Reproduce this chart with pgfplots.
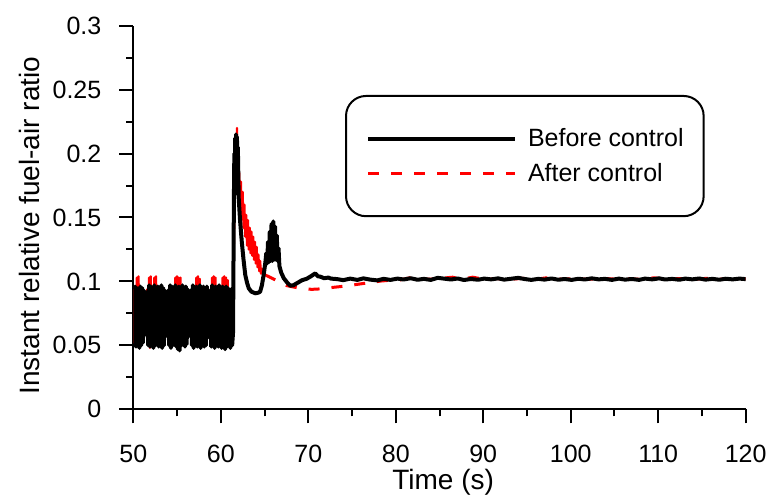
\documentclass[border=0pt]{standalone}
\usepackage{fontspec}
\setmainfont{Liberation Sans}
\usepackage{pgfplots}
\pgfplotsset{compat=1.18}

\begin{document}
\begin{tikzpicture}
\begin{axis}[
  scale only axis,
  width=306.2pt, height=191.8pt,
  xmin=50, xmax=120, ymin=0, ymax=0.3,
  axis lines=left,
  axis line style={-, line width=1pt},
  xtick={50,60,70,80,90,100,110,120},
  ytick={0,0.05,0.1,0.15,0.2,0.25,0.3},
  yticklabels={0,0.05,0.1,0.15,0.2,0.25,0.3},
  minor x tick num=1, minor y tick num=1,
  tick align=outside, tick pos=left,
  major tick length=7pt, minor tick length=3.5pt,
  tick style={line width=1pt, black},
  /pgf/number format/assume math mode=true,
  tick label style={font=\fontsize{12.5}{14}\selectfont},
  xticklabel style={anchor=base, inner sep=0pt, yshift=-19.5pt},
  yticklabel style={anchor=east, inner sep=0pt, xshift=-8.8pt},
  xlabel={Time (s)},
  ylabel={Instant relative fuel-air ratio},
  every axis x label/.style={at={(axis description cs:0.506,0)}, anchor=base, yshift=-40pt, font=\fontsize{14}{16}\selectfont},
  every axis y label/.style={at={(axis description cs:-0.1524,0.479)}, rotate=90, anchor=base, font=\fontsize{14}{16}\selectfont},
  reverse legend,
  legend image code/.code={\draw[#1] (0pt,0pt) -- (73.5pt,0pt);},
  legend style={at={(axis description cs:0.3457,0.8194)}, anchor=north west,
    draw=black, line width=1pt, rounded corners=10pt,
    font=\fontsize{12.5}{14}\selectfont,
    inner xsep=10pt, inner ysep=16pt, row sep=7pt, column sep=5.5pt,
    nodes={inner sep=0pt}},
  legend cell align=left,
]
% After control, dense part (drawn solid, it is too dense to show the dashes)
\addplot[red, line width=1.1pt, line join=round, forget plot] coordinates {
(50.0,0.094)(50.1,0.052)(50.2,0.096)(50.3,0.053)(50.4,0.103)(50.5,0.052)(50.6,0.104)(50.7,0.054)
(50.8,0.095)(50.9,0.053)(51.0,0.094)(51.1,0.054)(51.2,0.093)(51.3,0.058)(51.4,0.078)(51.5,0.068)
(51.6,0.094)(51.7,0.052)(51.8,0.103)(51.9,0.048)(52.0,0.104)(52.1,0.053)(52.2,0.094)(52.3,0.052)
(52.4,0.103)(52.5,0.053)(52.6,0.104)(52.7,0.054)(52.8,0.094)(52.9,0.052)(53.0,0.093)(53.1,0.053)
(53.2,0.095)(53.3,0.052)(53.4,0.094)(53.5,0.053)(53.6,0.093)(53.7,0.057)(53.8,0.080)(53.9,0.066)
(54.0,0.093)(54.1,0.052)(54.2,0.095)(54.3,0.053)(54.4,0.094)(54.5,0.052)(54.6,0.094)(54.7,0.053)
(54.8,0.103)(54.9,0.052)(55.0,0.104)(55.1,0.050)(55.2,0.103)(55.3,0.049)(55.4,0.103)(55.5,0.052)
(55.6,0.095)(55.7,0.054)(55.8,0.094)(55.9,0.052)(56.0,0.094)(56.1,0.053)(56.2,0.093)(56.3,0.057)
(56.4,0.079)(56.5,0.068)(56.6,0.093)(56.7,0.052)(56.8,0.095)(56.9,0.051)(57.0,0.094)(57.1,0.053)
(57.2,0.103)(57.3,0.052)(57.4,0.104)(57.5,0.052)(57.6,0.102)(57.7,0.051)(57.8,0.094)(57.9,0.053)
(58.0,0.094)(58.1,0.052)(58.2,0.093)(58.3,0.053)(58.4,0.094)(58.5,0.056)(58.6,0.079)(58.7,0.069)
(58.8,0.093)(58.9,0.052)(59.0,0.103)(59.1,0.053)(59.2,0.104)(59.3,0.051)(59.4,0.103)(59.5,0.053)
(59.6,0.094)(59.7,0.052)(59.8,0.095)(59.9,0.053)(60.0,0.094)(60.1,0.051)(60.2,0.103)(60.3,0.052)
(60.4,0.104)(60.5,0.050)(60.6,0.103)(60.7,0.052)(60.8,0.101)(60.9,0.053)(61.0,0.094)(61.1,0.051)
(61.2,0.094)(61.3,0.053)(61.4,0.062)(61.45,0.090)(61.5,0.130)(61.6,0.170)(61.7,0.205)(61.75,0.190)
(61.85,0.220)(61.9,0.200)(62.0,0.196)(62.05,0.172)(62.1,0.185)(62.2,0.165)(62.3,0.178)(62.4,0.150)
(62.5,0.170)(62.6,0.142)(62.7,0.160)(62.8,0.135)(62.9,0.152)(63.0,0.128)(63.1,0.148)(63.2,0.125)
(63.3,0.142)(63.4,0.122)(63.5,0.139)(63.6,0.120)(63.7,0.135)(63.8,0.117)(63.9,0.131)(64.0,0.114)
(64.1,0.127)(64.2,0.111)(64.3,0.121)(64.4,0.108)(64.5,0.116)(64.6,0.106)(64.7,0.110)(64.9,0.106)(65.1,0.105)
};
% After control, settling part
\addplot[red, line width=1.5pt, dash pattern=on 5.5pt off 6pt] coordinates {
(65.1,0.105)(65.85,0.1025)(66.4,0.1006)(67.0,0.098)(67.5,0.0968)(68.1,0.0959)(68.8,0.0950)
(69.5,0.0943)(70.4,0.0938)(71.5,0.0942)(72.9,0.0954)(74.0,0.0962)(75.1,0.0972)(76.2,0.0983)
(77.25,0.0993)(78.3,0.1003)(79.5,0.1010)(80.5,0.1012)(82.0,0.1034)(83.0,0.1015)(84.5,0.1020)
(86.5,0.1033)(87.5,0.1016)(88.8,0.1033)(90.0,0.1018)(91.5,0.1022)(93.0,0.1016)(94.5,0.1024)
(96.0,0.1018)(97.5,0.1030)(99.0,0.1017)(100.5,0.1022)(102.0,0.1016)(103.5,0.1025)(105.0,0.1018)
(106.5,0.1022)(108.0,0.1016)(109.5,0.1028)(111.0,0.1018)(112.5,0.1022)(114.0,0.1016)(115.5,0.1024)
(117.0,0.1018)(118.5,0.1022)(120.0,0.1019)
};
\addlegendentry{After control}
% Before control
\addplot[black, line width=2pt, line join=round] coordinates {
(50.0,0.094)(50.1,0.050)(50.2,0.096)(50.3,0.049)(50.4,0.095)(50.5,0.051)(50.6,0.094)(50.7,0.048)
(50.8,0.096)(50.9,0.050)(51.0,0.095)(51.1,0.052)(51.2,0.093)(51.3,0.058)(51.4,0.078)(51.5,0.068)
(51.6,0.092)(51.7,0.050)(51.8,0.097)(51.9,0.049)(52.0,0.096)(52.1,0.051)(52.2,0.094)(52.3,0.048)
(52.4,0.097)(52.5,0.050)(52.6,0.095)(52.7,0.052)(52.8,0.096)(52.9,0.049)(53.0,0.094)(53.1,0.051)
(53.2,0.097)(53.3,0.048)(53.4,0.095)(53.5,0.050)(53.6,0.093)(53.7,0.057)(53.8,0.079)(53.9,0.066)
(54.0,0.093)(54.1,0.050)(54.2,0.097)(54.3,0.048)(54.4,0.096)(54.5,0.050)(54.6,0.094)(54.7,0.051)
(54.8,0.097)(54.9,0.049)(55.0,0.095)(55.1,0.047)(55.2,0.096)(55.3,0.046)(55.4,0.094)(55.5,0.050)
(55.6,0.097)(55.7,0.052)(55.8,0.095)(55.9,0.049)(56.0,0.096)(56.1,0.051)(56.2,0.094)(56.3,0.057)
(56.4,0.078)(56.5,0.068)(56.6,0.093)(56.7,0.050)(56.8,0.097)(56.9,0.048)(57.0,0.095)(57.1,0.051)
(57.2,0.096)(57.3,0.049)(57.4,0.094)(57.5,0.050)(57.6,0.097)(57.7,0.048)(57.8,0.095)(57.9,0.051)
(58.0,0.096)(58.1,0.049)(58.2,0.094)(58.3,0.050)(58.4,0.096)(58.5,0.056)(58.6,0.078)(58.7,0.068)
(58.8,0.093)(58.9,0.049)(59.0,0.097)(59.1,0.050)(59.2,0.095)(59.3,0.048)(59.4,0.096)(59.5,0.051)
(59.6,0.094)(59.7,0.049)(59.8,0.097)(59.9,0.050)(60.0,0.095)(60.1,0.048)(60.2,0.096)(60.3,0.050)
(60.4,0.094)(60.5,0.047)(60.6,0.096)(60.7,0.049)(60.8,0.095)(60.9,0.051)(61.0,0.093)(61.1,0.048)
(61.2,0.094)(61.3,0.050)(61.4,0.060)(61.5,0.165)(61.55,0.200)(61.6,0.168)(61.65,0.212)(61.7,0.170)
(61.75,0.215)(61.8,0.172)(61.85,0.213)(61.9,0.170)(61.95,0.205)(62.05,0.165)(62.2,0.148)(62.4,0.131)
(62.6,0.117)(62.8,0.105)(63.0,0.099)(63.2,0.0946)(63.5,0.0920)(63.95,0.0907)(64.3,0.0912)(64.5,0.0920)
(64.7,0.097)(64.9,0.105)(65.1,0.115)(65.2,0.122)(65.3,0.114)(65.4,0.131)(65.5,0.115)(65.6,0.139)
(65.7,0.116)(65.8,0.145)(65.9,0.116)(66.0,0.147)(66.1,0.117)(66.2,0.143)(66.3,0.117)(66.4,0.136)
(66.5,0.116)(66.6,0.126)(66.7,0.112)(66.9,0.107)(67.2,0.1025)(67.6,0.0990)(67.95,0.0967)(68.3,0.0970)
(68.8,0.0990)(69.3,0.1010)(69.8,0.1020)(70.3,0.1040)(70.8,0.1063)(71.1,0.1040)(71.4,0.1037)(71.8,0.1025)
(72.3,0.1030)(72.6,0.1022)
(73.3,0.1018)(74.0,0.1010)(74.8,0.1022)(75.6,0.1012)(76.3,0.1024)(77.1,0.1014)(77.9,0.1008)(78.6,0.1020)
(79.4,0.1012)(80.2,0.1022)(80.9,0.1015)(81.7,0.1025)(82.5,0.1013)(83.2,0.1020)(84.0,0.1012)(84.8,0.1028)
(85.5,0.1022)(86.3,0.1015)(87.1,0.1023)(87.8,0.1011)(88.6,0.1019)(89.4,0.1013)(90.1,0.1022)(90.9,0.1016)
(91.7,0.1024)(92.4,0.1014)(93.2,0.1021)(94.0,0.1028)(94.7,0.1019)(95.5,0.1012)(96.3,0.1020)(97.0,0.1014)
(97.8,0.1023)(98.6,0.1013)(99.3,0.1019)(100.1,0.1012)(100.9,0.1021)(101.6,0.1015)(102.4,0.1024)(103.2,0.1016)
(103.9,0.1020)(104.7,0.1012)(105.5,0.1022)(106.2,0.1014)(107.0,0.1019)(107.8,0.1012)(108.5,0.1022)(109.3,0.1016)
(110.1,0.1024)(110.8,0.1015)(111.6,0.1020)(112.4,0.1013)(113.1,0.1022)(113.9,0.1016)(114.7,0.1023)(115.4,0.1014)
(116.2,0.1020)(117.0,0.1013)(117.7,0.1021)(118.5,0.1016)(119.3,0.1022)(120.0,0.1018)
};
\addlegendentry{Before control}
\coordinate (sw) at (rel axis cs:0,0);
\coordinate (ne) at (rel axis cs:1,1);
\end{axis}
\pgfresetboundingbox
\path[use as bounding box] ([shift={(-66.65pt,-45.35pt)}]sw) rectangle ([shift={(12.65pt,12.85pt)}]ne);
\end{tikzpicture}
\end{document}
